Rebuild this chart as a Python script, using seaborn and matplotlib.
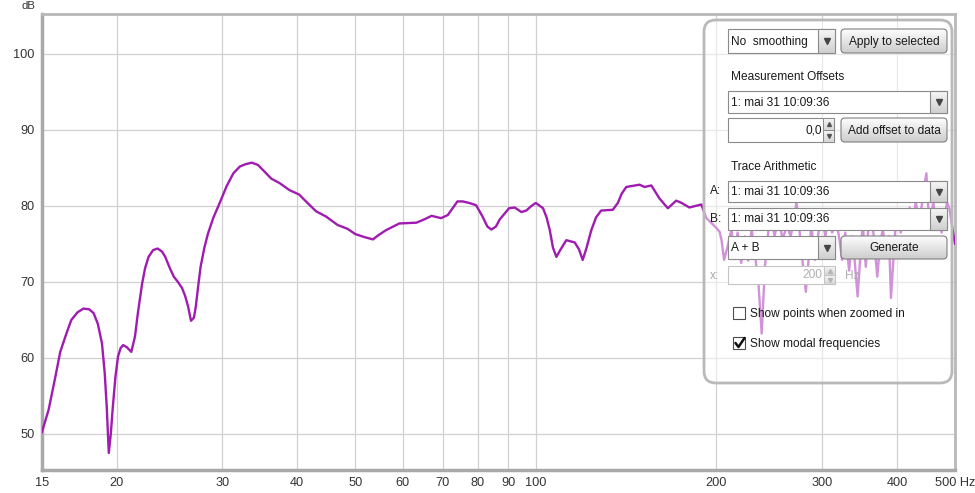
import numpy as np
import matplotlib
matplotlib.use('Agg')
import matplotlib.pyplot as plt
import matplotlib.colors as mcolors
import seaborn as sns
from matplotlib.patches import FancyBboxPatch, Rectangle
from matplotlib.ticker import FixedLocator, NullLocator

freq_hz = [15.0, 15.4, 15.8, 16.1, 16.5, 16.8, 17.2, 17.6, 18.0, 18.3, 18.6, 18.9,
           19.1, 19.25, 19.4, 19.55, 19.7, 19.9, 20.1, 20.3, 20.5, 20.8, 21.15, 21.45,
           21.7, 22.05, 22.3, 22.6, 23.0, 23.4, 23.8, 24.1, 24.5, 24.9, 25.3, 25.7,
           26.0, 26.3, 26.6, 26.9, 27.1, 27.35, 27.6, 28.0, 28.4, 29.0, 29.7, 30.5,
           31.3, 32.1, 32.8, 33.6, 34.4, 35.3, 36.2, 37.4, 38.8, 40.3, 41.6, 43.0,
           44.7, 46.7, 48.5, 50.0, 51.8, 53.5, 54.5, 56.2, 59.2, 63.2, 65.0, 67.0,
           69.5, 71.3, 72.8, 74.0, 75.5, 77.4, 79.5, 81.5, 83.0, 84.3, 85.8, 87.0,
           90.2, 92.2, 94.6, 96.4, 98.3, 100.0, 102.8, 104.2, 105.5, 106.8, 108.2, 110.0,
           112.4, 116.1, 118.0, 119.7, 121.5, 123.7, 126.0, 128.5, 134.4, 137.0, 139.0, 141.5,
           148.9, 151.8, 155.8, 160.7, 166.0, 171.4, 175.0, 180.3, 188.8,
           192.5, 196, 200, 202.5, 204, 206, 209, 212, 214, 217, 220, 223,
           226, 229, 232, 235, 238, 241, 244, 247, 250, 254, 258, 262,
           266, 270, 272, 275, 279, 282, 285, 288, 292, 296, 300, 304,
           308, 312, 317, 321, 324, 328, 333, 337, 340, 344, 348, 351,
           355, 358, 362, 366, 371, 375, 379, 383, 388, 391, 395, 398,
           402, 406, 410, 415, 420, 425, 430, 435, 440, 444, 448, 451,
           455, 460, 466, 470, 475, 480, 485, 490, 495, 500]
spl_db = [50.2, 53.2, 57.5, 60.8, 63.3, 65.0, 66.0, 66.5, 66.4, 65.9, 64.5, 61.9,
          58.0, 53.5, 47.5, 50.0, 53.5, 57.5, 60.2, 61.3, 61.7, 61.4, 60.8, 62.8,
          66.0, 69.8, 71.8, 73.3, 74.2, 74.4, 74.0, 73.3, 71.9, 70.7, 70.0, 69.2,
          68.2, 66.8, 64.9, 65.3, 66.8, 69.5, 72.0, 74.5, 76.4, 78.5, 80.4, 82.6,
          84.3, 85.2, 85.5, 85.7, 85.4, 84.5, 83.6, 83.0, 82.1, 81.5, 80.4, 79.3,
          78.6, 77.5, 77.0, 76.3, 75.9, 75.6, 76.1, 76.8, 77.7, 77.8, 78.2, 78.7,
          78.4, 78.8, 79.8, 80.6, 80.6, 80.4, 80.1, 78.6, 77.3, 76.9, 77.3, 78.2,
          79.7, 79.8, 79.2, 79.4, 80.0, 80.4, 79.7, 78.5, 76.8, 74.5, 73.3, 74.3,
          75.5, 75.2, 74.3, 72.9, 74.5, 76.8, 78.5, 79.4, 79.5, 80.4, 81.6, 82.5,
          82.8, 82.5, 82.7, 81.0, 79.7, 80.7, 80.4, 79.8, 80.2,
          78.4, 77.8, 77.1, 76.6, 75.5, 72.9, 74.8, 77.0, 73.0, 76.5, 72.5, 76.0,
          72.8, 77.0, 73.5, 70.0, 63.2, 72.0, 76.5, 79.0, 76.0, 78.5, 75.5, 77.5,
          76.0, 78.5, 80.5, 77.0, 72.0, 68.7, 73.0, 77.5, 72.9, 76.5, 78.5, 76.0,
          79.0, 76.5, 78.0, 75.5, 72.9, 76.5, 71.5, 76.0, 73.0, 68.1, 74.0, 77.5,
          72.0, 76.5, 79.5, 76.0, 70.7, 75.0, 77.0, 74.0, 76.0, 67.9, 73.5, 77.5,
          79.0, 76.5, 79.5, 77.0, 79.8, 77.5, 80.5, 78.5, 80.0, 82.5, 84.3, 80.0,
          78.0, 80.5, 77.0, 79.0, 76.5, 78.5, 80.5, 79.5, 77.0, 75.0]

x_ticks = [15, 20, 30, 40, 50, 60, 70, 80, 90, 100, 200, 300, 400, 500]
x_tick_labels = ['15', '20', '30', '40', '50', '60', '70', '80', '90', '100',
                 '200', '300', '400', '500 Hz']
y_ticks = [50, 60, 70, 80, 90, 100]

W, H = 975, 493
FS = 8.6  # panel text size
sns.set_theme(style='white')
plt.rcParams['font.family'] = ['Liberation Sans', 'DejaVu Sans']

fig = plt.figure(figsize=(W / 100, H / 100), dpi=100)
fig.patch.set_facecolor('white')

# main plot area: x 41.8..955 px, y 14..470 px
ax = fig.add_axes([41.8 / W, (H - 470) / H, (955 - 41.8) / W, (470 - 14) / H])
sns.lineplot(x=freq_hz, y=spl_db, ax=ax, color='#a01cb0', linewidth=1.7,
             estimator=None, sort=False, zorder=3)
ax.set_xscale('log')
ax.set_xlim(15, 500)
ax.set_ylim(45.26, 105.26)
ax.xaxis.set_major_locator(FixedLocator(x_ticks))
ax.xaxis.set_minor_locator(NullLocator())
ax.set_xticklabels(x_tick_labels)
ax.set_yticks(y_ticks)
ax.set_xlabel('')
ax.set_ylabel('')
ax.grid(True, color='#d0d0d0', linewidth=0.9)
ax.tick_params(axis='both', length=0, labelsize=9.2, colors='#333333')
ax.tick_params(axis='y', pad=5)
ax.tick_params(axis='x', pad=5)
for side in ['left', 'bottom']:
    ax.spines[side].set_color('#a9a9a9')
    ax.spines[side].set_linewidth(2.5)
for side in ['top', 'right']:
    ax.spines[side].set_color('#b8b8b8')
    ax.spines[side].set_linewidth(2.0)
fig.text(28 / W, 1 - 6 / H, 'dB', ha='center', va='center', fontsize=8.2, color='#333333')

# --- control panel overlay, drawn in pixel coordinates ---
ov = fig.add_axes([0, 0, 1, 1], zorder=5)
ov.axis('off')


def rbox(x0, y0, x1, y1, r, fc, ec, lw, z=6):
    p = FancyBboxPatch((x0, y0), x1 - x0, y1 - y0,
                       boxstyle=f'round,pad=0,rounding_size={r}',
                       fc=fc, ec=ec, lw=lw, zorder=z)
    ov.add_patch(p)
    return p


def gradient(patch, x0, y0, x1, y1, top, bottom, z):
    t = np.array(mcolors.to_rgb(top))
    b = np.array(mcolors.to_rgb(bottom))
    g = np.linspace(0, 1, 40)[:, None, None]
    img = t * (1 - g) + b * g
    im = ov.imshow(img, extent=[x0, x1, y1, y0], aspect='auto',
                   interpolation='bilinear', zorder=z)
    im.set_clip_path(patch)


def button(x0, y0, x1, y1, label):
    p = rbox(x0, y0, x1, y1, 4, 'none', '#7f7f7f', 0.8, z=8)
    gradient(p, x0, y0, x1, y1, '#fdfdfd', '#cdcdcd', 7)
    ov.text((x0 + x1) / 2, (y0 + y1) / 2 + 0.5, label, ha='center', va='center',
            fontsize=FS, color='#1a1a1a', zorder=9)


def combo(x0, y0, x1, y1, label, arrow_w=17):
    ov.add_patch(Rectangle((x0, y0), x1 - x0, y1 - y0, fc='white', ec='#8a8a8a', lw=0.8, zorder=7))
    xa = x1 - arrow_w
    p = Rectangle((xa, y0), arrow_w, y1 - y0, fc='none', ec='#8a8a8a', lw=0.8, zorder=8)
    ov.add_patch(p)
    gradient(p, xa, y0, x1, y1, '#f6f6f6', '#d0d0d0', 7.5)
    ov.plot([(xa + x1) / 2], [(y0 + y1) / 2], marker='v', ms=4.3, color='#454545', zorder=9)
    ov.text(x0 + 3, (y0 + y1) / 2 + 0.5, label, ha='left', va='center',
            fontsize=FS, color='#1a1a1a', zorder=9)


def spinner(x0, y0, x1, y1, value, enabled=True):
    ec = '#8a8a8a' if enabled else '#c4c4c4'
    tc = '#1a1a1a' if enabled else '#b0b0b0'
    ac = '#555555' if enabled else '#b5b5b5'
    xa = x1 - 11
    ov.add_patch(Rectangle((x0, y0), x1 - x0, y1 - y0, fc='white', ec=ec, lw=0.8, zorder=7))
    ym = (y0 + y1) / 2
    for ya, yb, mk in [(y0, ym, '^'), (ym, y1, 'v')]:
        p = Rectangle((xa, ya), 11, yb - ya, fc='none', ec=ec, lw=0.7, zorder=8)
        ov.add_patch(p)
        gradient(p, xa, ya, x1, yb, '#f6f6f6', '#d6d6d6', 7.5)
        ov.plot([xa + 5.5], [(ya + yb) / 2], marker=mk, ms=2.8, color=ac, zorder=9)
    ov.text(xa - 1.5, ym + 0.5, value, ha='right', va='center', fontsize=FS, color=tc, zorder=9)


def checkbox(x0, y0, label, checked):
    ov.add_patch(Rectangle((x0, y0), 12, 12, fc='white', ec='#4d4d4d', lw=0.8, zorder=7))
    if checked:
        ov.plot([x0 + 2.5, x0 + 5.5, x0 + 11.5], [y0 + 6.0, y0 + 10.0, y0 + 1.0],
                color='#111111', lw=1.8, solid_capstyle='round', zorder=9)
    ov.text(x0 + 17, y0 + 6.5, label, ha='left', va='center', fontsize=FS,
            color='#1a1a1a', zorder=9)


# translucent panel
rbox(704, 20, 952, 383, 12, (1, 1, 1, 0.52), '#b9b9b9', 2.0, z=6)

combo(728, 29, 835, 53, 'No  smoothing')
button(841, 29, 947, 53, 'Apply to selected')

ov.text(731, 77, 'Measurement Offsets', ha='left', va='center', fontsize=FS, color='#1a1a1a', zorder=9)
combo(728, 91, 947, 113, '1: mai 31 10:09:36')
spinner(728, 118, 834, 142, '0,0')
button(841, 118, 947, 142, 'Add offset to data')

ov.text(731, 167, 'Trace Arithmetic', ha='left', va='center', fontsize=FS, color='#1a1a1a', zorder=9)
ov.text(710, 191.5, 'A:', ha='left', va='center', fontsize=FS, color='#1a1a1a', zorder=9)
combo(728, 181, 947, 202, '1: mai 31 10:09:36')
ov.text(710, 219, 'B:', ha='left', va='center', fontsize=FS, color='#1a1a1a', zorder=9)
combo(728, 208, 947, 230, '1: mai 31 10:09:36')
combo(728, 236, 835, 259, 'A + B')
button(841, 236, 947, 259, 'Generate')

ov.text(710, 276, 'x:', ha='left', va='center', fontsize=FS, color='#a8a8a8', zorder=9)
spinner(728, 266, 835, 284, '200', enabled=False)
ov.text(845, 276, 'Hz', ha='left', va='center', fontsize=FS, color='#b0b0b0', zorder=9)

checkbox(733, 307, 'Show points when zoomed in', False)
checkbox(733, 337, 'Show modal frequencies', True)

ov.set_xlim(0, W)
ov.set_ylim(H, 0)

fig.savefig('out.png', dpi=100, facecolor='white')
